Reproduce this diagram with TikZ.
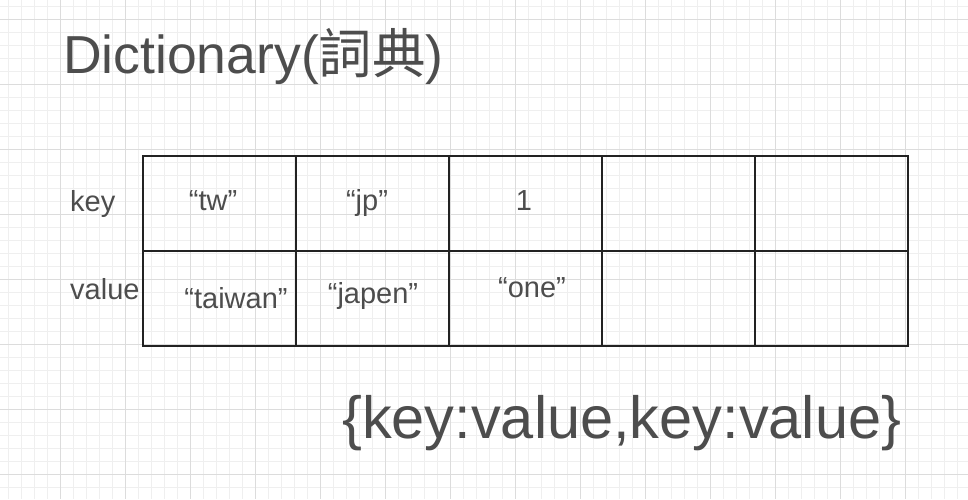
\documentclass[tikz,border=0pt]{standalone}
\usepackage{fontspec}
\setmainfont{Liberation Sans}
\newfontfamily\cjk{Noto Sans CJK TC}
\definecolor{txt}{HTML}{4D4D4D}
\definecolor{minorc}{HTML}{EFEFEF}
\definecolor{majorc}{HTML}{DCDCDC}
\definecolor{linec}{HTML}{222222}
\begin{document}
\begin{tikzpicture}[x=1pt,y=-1pt,
  minorgrid/.style={draw=minorc,line width=0.8pt},
  majorgrid/.style={draw=majorc,line width=0.9pt},
  cell/.style={draw=linec,line width=1.5pt,minimum width=153pt,minimum height=95pt,inner sep=0pt,anchor=north west},
  label/.style={text=txt,inner sep=0pt,anchor=base west,font=\fontsize{29}{33}\selectfont},
  celltext/.style={text=txt,inner sep=0pt,anchor=base,font=\fontsize{29}{33}\selectfont}]
\useasboundingbox (0,0) rectangle (968,499);
\fill[white] (0,0) rectangle (968,499);
\foreach \x in {8,21,...,968} \draw[minorgrid] (\x,0) -- (\x,499);
\foreach \y in {6,19,...,499} \draw[minorgrid] (0,\y) -- (968,\y);
\foreach \x in {60,125,...,968} \draw[majorgrid] (\x,0) -- (\x,499);
\foreach \y in {19,84,...,499} \draw[majorgrid] (0,\y) -- (968,\y);
% title
\node[text=txt,inner sep=0pt,anchor=base west,font=\fontsize{53.5}{60}\selectfont] (title) at (63,73) {Dictionary({\cjk 詞典})};
% table
\foreach \i in {0,...,4} {
  \node[cell] (k\i) at (142+153*\i,155) {};
  \node[cell] (v\i) at (142+153*\i,250) {};
}
% row labels
\node[label] (keylbl) at (70,211) {key};
\node[label] (vallbl) at (70,299) {value};
% cell contents
\node[celltext] (tw) at (213,210) {“tw”};
\node[celltext] (jp) at (367,210) {“jp”};
\node[celltext] (one1) at (524,210) {1};
\node[celltext] (taiwan) at (236,308) {“taiwan”};
\node[celltext] (japen) at (373,303) {“japen”};
\node[celltext] (one) at (532,297) {“one”};
% bottom text
\node[text=txt,inner sep=0pt,anchor=base west,font=\fontsize{59.5}{66}\selectfont] (kv) at (342,438) {\{key:value,key:value\}};
\end{tikzpicture}
\end{document}
